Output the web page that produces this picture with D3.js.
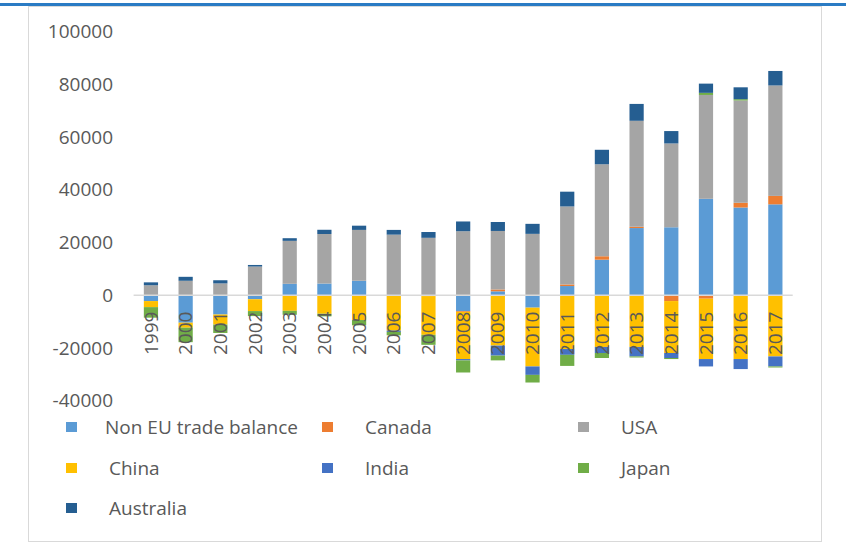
<!DOCTYPE html>
<html>
<head>
<meta charset="utf-8">
<script src="https://cdn.jsdelivr.net/npm/d3@7"></script>
<style>
    body { margin: 0; background: #fff; }
    text { font-family: "Open Sans", sans-serif; fill: #595959; }
</style>
</head>
<body>
<div id="chart-area"></div>
<script>
/*
*    trade balance chart - stacked bars with negative values
*/

var years = ["1999","2000","2001","2002","2003","2004","2005","2006","2007","2008",
             "2009","2010","2011","2012","2013","2014","2015","2016","2017"];

var seriesNames = ["Non EU trade balance","Canada","USA","China","India","Japan","Australia"];
var seriesColors = ["#5b9bd5","#ed7d31","#a5a5a5","#ffc000","#4472c4","#70ad47","#255e91"];

var nonEU     = [-2200,-10400,-7300,-1500,4350,4450,5500,-200,0,-6000,1500,-4700,3500,13500,25500,25800,36600,33300,34500];
var canada    = [0,0,0,0,0,0,0,0,-300,-300,700,0,600,1300,500,-2200,-1300,1800,3200];
var usa       = [3800,5500,4500,10900,16300,18800,19300,23000,21800,24300,22200,23300,29600,34900,40200,31800,39400,38800,41900];
var china     = [-2300,-1900,-3800,-4500,-5900,-7000,-9400,-13200,-14700,-17900,-19100,-22300,-20400,-19600,-19600,-19700,-22900,-24200,-23200];
var india     = [0,0,0,0,0,0,0,-500,0,-500,-3800,-3200,-2200,-2300,-3600,-1900,-2800,-3800,-3800];
var japan     = [-4000,-5500,-3200,-1900,-1500,-1000,-2000,-1300,-3800,-4600,-1800,-2900,-4200,-1900,-400,-400,800,500,-400];
var australia = [1100,1500,1200,600,1000,1600,1600,1800,2200,3700,3400,3800,5600,5500,6400,4700,3500,4500,5500];

var yTicks = [-40000,-20000,0,20000,40000,60000,80000,100000];

// one row per year for d3.stack
var table = years.map(function(yr, i){
    return {
        year: yr,
        "Non EU trade balance": nonEU[i],
        "Canada": canada[i],
        "USA": usa[i],
        "China": china[i],
        "India": india[i],
        "Japan": japan[i],
        "Australia": australia[i]
    };
});

var width = 846, height = 548;

var svg = d3.select("#chart-area").append("svg")
    .attr("width", width)
    .attr("height", height);

// frame + blue strip on top
svg.append("rect")
    .attr("x", 28.5).attr("y", 6.5)
    .attr("width", 793).attr("height", 535)
    .attr("fill", "none")
    .attr("stroke", "#d9d9d9");

svg.append("rect")
    .attr("x", 0).attr("y", 3)
    .attr("width", width).attr("height", 3)
    .attr("fill", "#2a7bc4");

var x = d3.scaleBand()
    .domain(years)
    .range([133.6, 792.7])
    .padding(0);

var y = d3.scaleLinear()
    .domain([-40000, 100000])
    .range([400.7, 31.7]);

var barW = x.bandwidth() * 0.41;

// y labels (no axis line, no gridlines)
svg.append("g")
    .selectAll("text")
    .data(yTicks)
    .enter().append("text")
    .attr("x", 113)
    .attr("y", function(d){ return y(d); })
    .attr("dy", "0.35em")
    .attr("text-anchor", "end")
    .style("font-size", "19px")
    .text(function(d){ return d; });

// Stack with diverging offset so negatives grow downward
var stack = d3.stack()
    .keys(seriesNames)
    .offset(d3.stackOffsetDiverging);

var layers = stack(table);

var g = svg.append("g");

g.selectAll("g.layer")
    .data(layers)
    .enter().append("g")
    .attr("class", "layer")
    .attr("fill", function(d, i){ return seriesColors[i]; })
    .selectAll("rect")
    .data(function(d){ return d; })
    .enter().append("rect")
    .attr("x", function(d){ return x(d.data.year) + (x.bandwidth() - barW) / 2; })
    .attr("y", function(d){ return y(Math.max(d[0], d[1])); })
    .attr("width", barW)
    .attr("height", function(d){ return Math.abs(y(d[0]) - y(d[1])); });

// zero line
svg.append("line")
    .attr("x1", x.range()[0]).attr("x2", x.range()[1])
    .attr("y1", y(0)).attr("y2", y(0))
    .attr("stroke", "#d9d9d9")
    .attr("stroke-width", 1.5);

// category labels, rotated, drawn over the bars
svg.append("g")
    .selectAll("text")
    .data(years)
    .enter().append("text")
    .attr("transform", function(d){
        return "translate(" + (x(d) + x.bandwidth() / 2) + ",355) rotate(-90)";
    })
    .attr("dy", "0.35em")
    .attr("text-anchor", "start")
    .style("font-size", "19px")
    .text(function(d){ return d; });

// legend, three columns
var legendCols = [66, 322, 578];
var legendRows = [427, 468, 508];

var legend = svg.append("g")
    .selectAll("g")
    .data(seriesNames)
    .enter().append("g")
    .attr("transform", function(d, i){
        return "translate(" + legendCols[i % 3] + "," + legendRows[Math.floor(i / 3)] + ")";
    });

legend.append("rect")
    .attr("x", 0).attr("y", -5)
    .attr("width", 11).attr("height", 10)
    .attr("fill", function(d, i){ return seriesColors[i]; });

legend.append("text")
    .attr("x", function(d, i){ return i === 0 ? 39 : 43; })
    .attr("dy", "0.35em")
    .style("font-size", "19px")
    .text(function(d){ return d; });
</script>
</body>
</html>
